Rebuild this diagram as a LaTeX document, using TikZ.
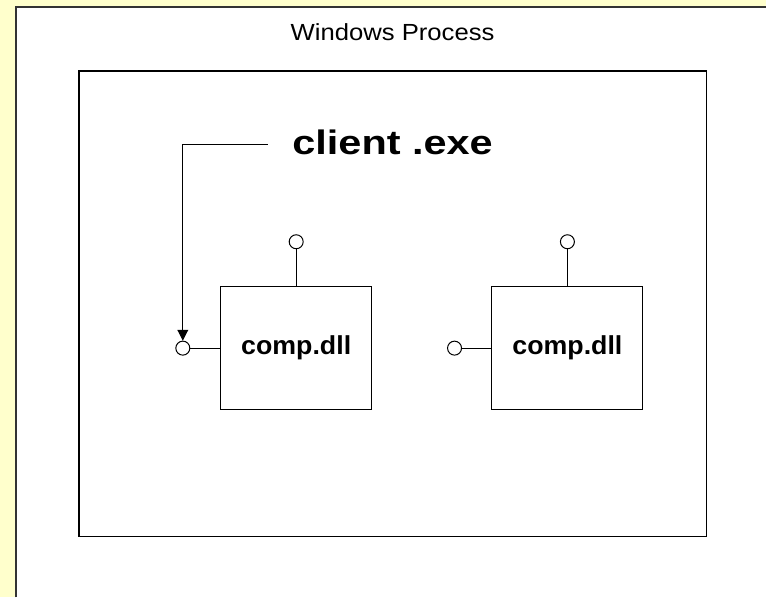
\documentclass[tikz,border=0pt]{standalone}
\usepackage{fontspec}
\setmainfont{Liberation Sans}
\usetikzlibrary{arrows.meta}
\definecolor{notepad}{HTML}{FFFFCC}
\tikzset{
  dllbox/.style={draw, line width=0.75pt, minimum width=113.25pt, minimum height=92.25pt, inner sep=0pt, font=\bfseries\fontsize{19.5}{22}\selectfont},
  port/.style={draw, circle, line width=0.75pt, minimum size=10.5pt, inner sep=0pt, fill=white},
  wire/.style={line width=0.75pt},
}

\begin{document}
\begin{tikzpicture}[x=0.75pt, y=-0.75pt]
	%%%%% START %%%%%
	
	\fill[notepad] (0, 0) rectangle (767, 598);
	\fill[white] (16, 7) rectangle (767, 598);
	\draw[line width=1.2pt, black!80] (16, 598) -- (16, 7) -- (767, 7);
	\useasboundingbox (0, 0) rectangle (767, 598);
	
	\draw[line width=0.9pt] (79, 71) rectangle (707, 537);
	\node[anchor=base, font=\fontsize{17.5}{20}\selectfont] (title) at (393, 41) {\scalebox{1.1}[1]{Windows Process}};
	
	\node[anchor=base, font=\bfseries\fontsize{25.5}{30}\selectfont] (client) at (393, 155) {\scalebox{1.22}[1]{client .exe}};
	
	\node[dllbox] (dllA) at (296.5, 348.5) {\scalebox{1.03}[1]{comp.dll}};
	\node[dllbox] (dllB) at (568, 348.5) {\scalebox{1.03}[1]{comp.dll}};
	
	\node[port] (topA) at (296.5, 242) {};
	\node[port] (leftA) at (183, 348.5) {};
	\node[port] (topB) at (568, 242) {};
	\node[port] (leftB) at (455, 348.5) {};
	
	\draw[wire] (dllA.north) -- (topA.south);
	\draw[wire] (dllA.west) -- (leftA.east);
	\draw[wire] (dllB.north) -- (topB.south);
	\draw[wire] (dllB.west) -- (leftB.east);
	
	\coordinate (lead) at (268, 145);
	\draw[wire, -{Triangle[width=8pt, length=8pt]}] (lead) -| (leftA.north);
	
	%%%%% END %%%%%
\end{tikzpicture}
\end{document}
